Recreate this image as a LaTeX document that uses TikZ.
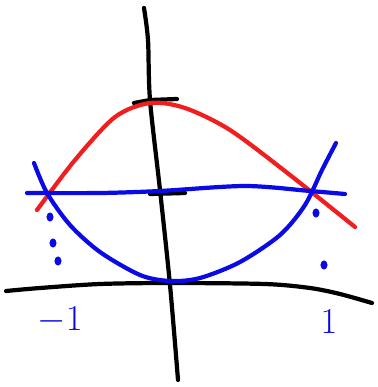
\documentclass[tikz,border=0pt]{standalone}
\usepackage{tikz}
\usetikzlibrary{calc}
\definecolor{penred}{RGB}{240, 30, 30}
\definecolor{penblue}{RGB}{10, 10, 230}

\begin{document}
\begin{tikzpicture}[x=0.02cm, y=-0.02cm,
    pen/.style={line width=2.4pt, line cap=round, line join=round},
    dotmark/.style={fill=penblue, draw=none},
    digit/.style={text=penblue, font=\fontsize{22}{22}\selectfont}]
  \useasboundingbox (0,0) rectangle (378,387);
  % axes
  \draw[pen] plot[smooth] coordinates {(6,291) (40,288) (100,284) (170,283) (265,284) (310,288) (340,294) (372,303)};
  \draw[pen] plot[smooth] coordinates {(144,8) (148,40) (150,100) (160,190) (170,285) (178,380)};
  \draw[pen] (134,103) -- (150,100) -- (177,99);
  \draw[pen] (150,194) -- (185,193);
  % red curve
  \draw[pen, penred] plot[smooth] coordinates {(37,210) (75,160) (115,117) (150,103) (185,108) (230,130) (290,175) (355,227)};
  % blue line and curve
  \draw[pen, penblue] plot[smooth] coordinates {(27,193) (100,193) (160,191) (245,186) (310,191) (345,194)};
  \draw[pen, penblue] plot[smooth] coordinates {(34,163) (47,193) (70,225) (100,252) (140,275) (170,281) (200,278) (240,262) (280,235) (305,205) (322,170) (336,143)};
  % dotted drops
  \foreach \px/\py in {50/217, 53/243, 58/261, 316/213, 324/265}
    \fill[dotmark] (\px,\py) ellipse (2pt and 2.6pt);
  % labels
  \node[digit] (minusone) at (60,320) {$-1$};
  \node[digit] (plusone) at (329,322) {$1$};
\end{tikzpicture}
\end{document}
